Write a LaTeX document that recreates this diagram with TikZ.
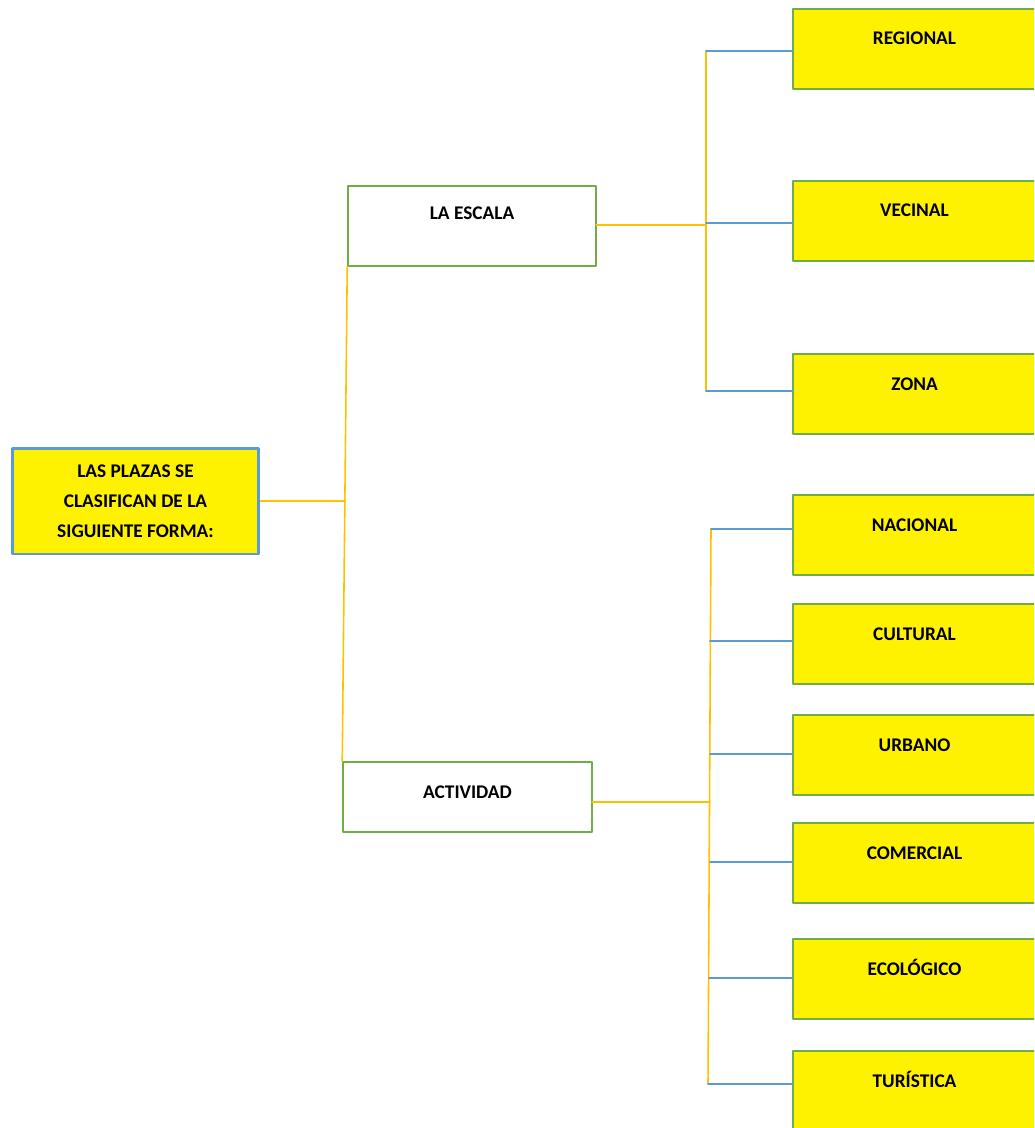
\documentclass[tikz,border=0pt]{standalone}
\usepackage{fontspec}
\setmainfont{Carlito}
\usepackage{pgf,tikz}
\usetikzlibrary{calc}

\definecolor{boxgreen}{HTML}{70AD47}
\definecolor{boxblue}{HTML}{5B9BD5}
\definecolor{lineorange}{HTML}{FFC000}
\definecolor{lineblue}{HTML}{5B9BD5}

\begin{document}
\begin{tikzpicture}[line cap=round,line join=round,x=0.02cm,y=-0.02cm,
  every node/.style={font=\fontsize{11}{17}\selectfont\bfseries, inner sep=0pt},
  rootbox/.style={draw=boxblue, line width=1.7pt, fill=yellow, minimum width=4.94cm, minimum height=2.12cm, align=center},
  midbox/.style={draw=boxgreen, line width=0.9pt, fill=white, rectangle},
  leafbox/.style={draw=boxgreen, line width=0.9pt, fill=yellow, minimum width=4.86cm, text height=0.72cm, text depth=0.88cm},
  trunk/.style={lineorange, line width=0.9pt},
  branch/.style={lineblue, line width=0.9pt}]
\useasboundingbox (0,0) rectangle (1034,1128);
\clip (0,0) rectangle (1034,1128);

\node[rootbox] (plazas) at (135.5,501) {LAS PLAZAS SE\\CLASIFICAN DE LA\\SIGUIENTE FORMA:};

\node[midbox, minimum width=4.96cm, text height=0.68cm, text depth=0.92cm] (escala) at (472,226) {LA ESCALA};
\node[midbox, minimum width=4.98cm, text height=0.72cm, text depth=0.68cm] (actividad) at (467.5,797) {ACTIVIDAD};

\node[leafbox] (regional) at (914.5,49) {REGIONAL};
\node[leafbox] (vecinal) at (914.5,221) {VECINAL};
\node[leafbox] (zona) at (914.5,394) {ZONA};
\node[leafbox] (nacional) at (914.5,535) {NACIONAL};
\node[leafbox] (cultural) at (914.5,644) {CULTURAL};
\node[leafbox] (urbano) at (914.5,755) {URBANO};
\node[leafbox] (comercial) at (914.5,863) {COMERCIAL};
\node[leafbox] (ecologico) at (914.5,979) {ECOLÓGICO};
\node[leafbox] (turistica) at (914.5,1091) {TURÍSTICA};

\coordinate (j0) at (345.5,501);
\coordinate (a0) at (596,225);
\coordinate (a1) at (706,51);
\coordinate (a2) at (706,223);
\coordinate (a3) at (706,391);
\coordinate (b0) at (592,802);
\coordinate (b1) at (711,529);
\coordinate (b2) at (710,641);
\coordinate (b3) at (710,754);
\coordinate (b4) at (710,862);
\coordinate (b5) at (709,978);
\coordinate (b6) at (708,1084);

\draw[trunk] (plazas.east) -- (j0);
\draw[trunk] (escala.south west) -- (actividad.north west);

\draw[trunk] (a0) -- (a0 -| a1);
\draw[trunk] (a1) -- (a3);
\draw[branch] (a1) -- (a1 -| regional.west);
\draw[branch] (a2) -- (a2 -| vecinal.west);
\draw[branch] (a3) -- (a3 -| zona.west);

\draw[trunk] (b0) -- (b0 -| b3);
\draw[trunk] (b1) -- (b6);
\draw[branch] (b1) -- (b1 -| nacional.west);
\draw[branch] (b2) -- (b2 -| cultural.west);
\draw[branch] (b3) -- (b3 -| urbano.west);
\draw[branch] (b4) -- (b4 -| comercial.west);
\draw[branch] (b5) -- (b5 -| ecologico.west);
\draw[branch] (b6) -- (b6 -| turistica.west);
\end{tikzpicture}
\end{document}
